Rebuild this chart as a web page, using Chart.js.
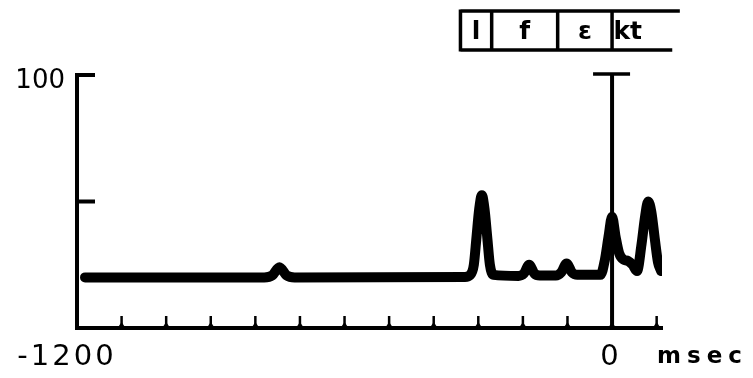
<!DOCTYPE html>
<html>
<head>
<meta charset="utf-8">
<script src="https://cdn.jsdelivr.net/npm/chart.js@4.4.1/dist/chart.umd.min.js"></script>
<style>
	html, body { margin: 0; padding: 0; background: #fff; }
	#wrap { width: 753px; height: 378px; }
</style>
</head>
<body>
<div id="wrap"><canvas id="traceChart" width="753" height="378"></canvas></div>
<script>
// trace (time in msec, amplitude 0-100)
let traceMs  = [-1182, -780, -762, -746, -730, -712, -330, -318, -310, -304, -298, -292, -286, -280, -274, -266,
                -210, -198, -186, -174, -162, -126, -114, -102, -90, -78, -26, -16, -8, 0, 8, 16, 26, 36, 46, 56,
                66, 74, 81, 88, 96, 103, 110];
let traceVal = [20, 20, 20.8, 24, 20.8, 20, 20.2, 21, 25, 36, 47, 52.5, 47, 36, 25, 21,
                20.6, 21.5, 25, 21.5, 20.8, 20.8, 22, 25.5, 22, 21, 21, 27, 36, 44, 36, 29.5, 27, 26.5, 25, 22.5,
                33, 44, 50, 46, 35, 26, 22.5];

// x axis ticks (every 100 msec) and labelled ticks
let xTicks      = [-1100, -1000, -900, -800, -700, -600, -500, -400, -300, -200, -100, 0, 100];
let xTickLabels = { '-1200': '-1200', '0': '0' };
let xUnit       = 'msec';

// y axis ticks
let yTicks      = [50, 100];
let yTickLabels = { '100': '100' };

// segment bar on top (msec boundaries)
let segLabels = ['l', 'f', 'ɛ', 'kt'];
let segBounds = [-340, -270, -122, 0, 70];
let segLineEnd = [152, 135];

// marker line at 0 msec
let markerMs = 0;

let points = traceMs.map(function(t, i) { return { x: t, y: traceVal[i] }; });

// extra drawing: ticks, labels, marker, segment bar
let decorPlugin = {
	id: 'decor',
	afterDraw: function(chart) {
		let ctx = chart.ctx;
		let xs = chart.scales.x;
		let ys = chart.scales.y;
		let area = chart.chartArea;
		ctx.save();
		ctx.fillStyle = '#000';
		ctx.strokeStyle = '#000';
		ctx.lineCap = 'butt';

		// x ticks pointing up
		xTicks.forEach(function(t) {
			let px = xs.getPixelForValue(t);
			ctx.lineWidth = 2.5;
			ctx.beginPath();
			ctx.moveTo(px, area.bottom);
			ctx.lineTo(px, area.bottom - 12);
			ctx.stroke();
			ctx.beginPath();
			ctx.moveTo(px - 4, area.bottom);
			ctx.lineTo(px, area.bottom - 6);
			ctx.lineTo(px + 4, area.bottom);
			ctx.fill();
		});

		// y ticks pointing right
		yTicks.forEach(function(v) {
			let py = ys.getPixelForValue(v);
			ctx.lineWidth = 4;
			ctx.beginPath();
			ctx.moveTo(area.left - 2, py);
			ctx.lineTo(area.left + 18, py);
			ctx.stroke();
		});

		// marker line with cap
		let mx = xs.getPixelForValue(markerMs);
		let top = ys.getPixelForValue(100);
		ctx.lineWidth = 4;
		ctx.beginPath();
		ctx.moveTo(mx, top);
		ctx.lineTo(mx, area.bottom);
		ctx.stroke();
		ctx.lineWidth = 3.5;
		ctx.beginPath();
		ctx.moveTo(mx - 19, top - 1);
		ctx.lineTo(mx + 18, top - 1);
		ctx.stroke();

		// tick labels
		ctx.textBaseline = 'alphabetic';
		ctx.font = '26px "DejaVu Sans"';
		ctx.textAlign = 'right';
		Object.keys(yTickLabels).forEach(function(k) {
			ctx.fillText(yTickLabels[k], area.left - 12, ys.getPixelForValue(Number(k)) + 13);
		});
		ctx.font = '29px "DejaVu Sans"';
		ctx.letterSpacing = '3px';
		ctx.textAlign = 'center';
		Object.keys(xTickLabels).forEach(function(k) {
			let px = xs.getPixelForValue(Number(k));
			if (k === '-1200') px -= 10;
			else px -= 1;
			ctx.fillText(xTickLabels[k], px, area.bottom + 37);
		});
		ctx.font = 'bold 23px "DejaVu Sans"';
		ctx.letterSpacing = '6px';
		ctx.textAlign = 'left';
		ctx.fillText(xUnit, mx + 45, area.bottom + 35);
		ctx.letterSpacing = '0px';

		// segment bar
		let bTop = 11, bBot = 50;
		let x0 = xs.getPixelForValue(segBounds[0]);
		ctx.lineWidth = 3.5;
		ctx.beginPath();
		ctx.moveTo(x0, bTop);
		ctx.lineTo(xs.getPixelForValue(segLineEnd[0]), bTop);
		ctx.moveTo(x0, bBot);
		ctx.lineTo(xs.getPixelForValue(segLineEnd[1]), bBot);
		for (let i = 0; i < segBounds.length - 1; i++) {
			let bx = xs.getPixelForValue(segBounds[i]);
			ctx.moveTo(bx, bTop - 1.5);
			ctx.lineTo(bx, bBot + 1.5);
		}
		ctx.stroke();
		ctx.font = 'bold 25px "DejaVu Sans"';
		ctx.textAlign = 'center';
		for (let i = 0; i < segLabels.length; i++) {
			let cx = (xs.getPixelForValue(segBounds[i]) + xs.getPixelForValue(segBounds[i + 1])) / 2;
			ctx.fillText(segLabels[i], cx, 39);
		}
		ctx.restore();
	}
};

new Chart(document.getElementById('traceChart'), {
	type: 'line',
	data: {
		datasets: [{
			data: points,
			borderColor: '#000',
			borderWidth: 10,
			pointRadius: 0,
			cubicInterpolationMode: 'monotone',
			borderCapStyle: 'round',
			borderJoinStyle: 'round',
			fill: false
		}]
	},
	options: {
		responsive: false,
		animation: false,
		layout: { padding: { left: 77, right: 91, top: 75, bottom: 50 } },
		plugins: { legend: { display: false }, tooltip: { enabled: false } },
		scales: {
			x: {
				type: 'linear', min: -1200, max: 112,
				grid: { display: false, drawTicks: false },
				ticks: { display: false },
				border: { display: true, color: '#000', width: 4 }
			},
			y: {
				min: 0, max: 100,
				grid: { display: false, drawTicks: false },
				ticks: { display: false },
				border: { display: true, color: '#000', width: 4 }
			}
		}
	},
	plugins: [decorPlugin]
});
</script>
</body>
</html>
